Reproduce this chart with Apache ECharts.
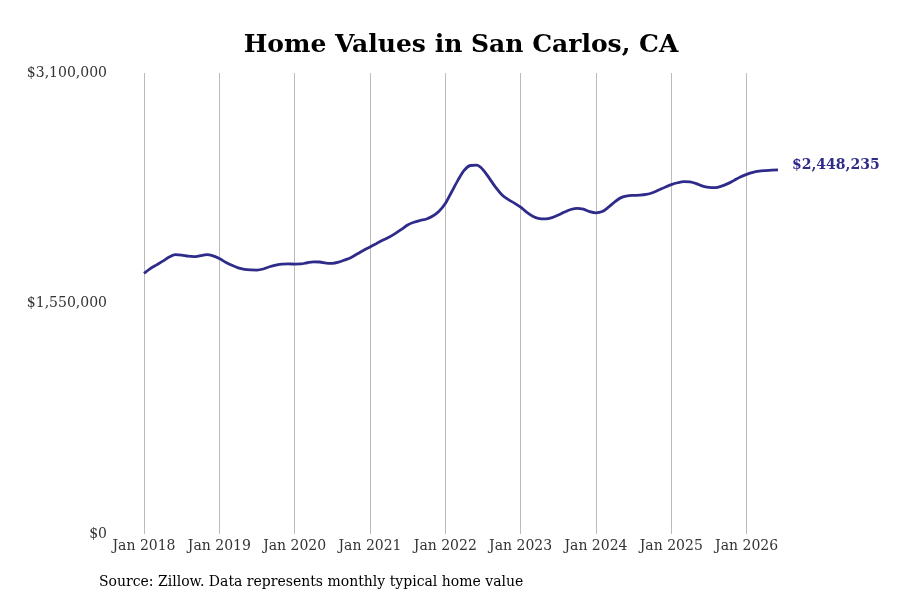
<!DOCTYPE html>
<html>
<head>
<meta charset="utf-8">
<script src="https://cdn.jsdelivr.net/npm/echarts@6/dist/echarts.min.js"></script>
<style>
  html, body { margin: 0; padding: 0; background: #fff; }
  #main { width: 900px; height: 600px; }
</style>
</head>
<body>
<div id="main"></div>
<script>
// monthly typical home value, Jan 2018 - Jun 2026
var years = ['2018', '2019', '2020', '2021', '2022', '2023', '2024', '2025', '2026'];
var monthNames = ['Jan', 'Feb', 'Mar', 'Apr', 'May', 'Jun', 'Jul', 'Aug', 'Sep', 'Oct', 'Nov', 'Dec'];
var values2018 = [1753000, 1785000, 1810000, 1835000, 1862000, 1878000, 1876000, 1868000, 1865000, 1872000, 1878000, 1870000];
var values2019 = [1852000, 1828000, 1807000, 1790000, 1780000, 1776000, 1775000, 1782000, 1797000, 1808000, 1815000, 1816000];
var values2020 = [1815000, 1816000, 1824000, 1830000, 1829000, 1822000, 1820000, 1828000, 1843000, 1860000, 1884000, 1908000];
var values2021 = [1930000, 1952000, 1975000, 1995000, 2020000, 2048000, 2078000, 2096000, 2108000, 2118000, 2138000, 2170000];
var values2022 = [2222000, 2300000, 2378000, 2445000, 2478000, 2480000, 2450000, 2393000, 2332000, 2282000, 2250000, 2225000];
var values2023 = [2198000, 2162000, 2135000, 2121000, 2119000, 2128000, 2145000, 2165000, 2182000, 2190000, 2184000, 2168000];
var values2024 = [2160000, 2168000, 2198000, 2234000, 2262000, 2274000, 2277000, 2279000, 2284000, 2295000, 2313000, 2332000];
var values2025 = [2349000, 2362000, 2370000, 2368000, 2356000, 2339000, 2331000, 2329000, 2339000, 2356000, 2378000, 2400000];
var values2026 = [2418000, 2432000, 2440000, 2444000, 2447000, 2448235];
var yTicks = [0, 1550000, 3100000];

var values = [].concat(values2018, values2019, values2020, values2021, values2022,
    values2023, values2024, values2025, values2026);
var months = [];
for (var i = 0; i < values.length; i++) {
    months.push(monthNames[i % 12] + ' ' + years[Math.floor(i / 12)]);
}

function money(v) {
    return '$' + Math.round(v).toString().replace(/\B(?=(\d{3})+(?!\d))/g, ',');
}

var lineColor = '#2e2b8a';
var serif = 'DejaVu Serif';

var myChart = echarts.init(document.getElementById('main'));
var option = {
    backgroundColor: '#fff',
    animation: false,
    title: [{
        text: 'Home Values in San Carlos, CA',
        left: 461,
        top: 33,
        padding: 0,
        textAlign: 'center',
        textStyle: { fontFamily: serif, fontWeight: 'bold', fontSize: 25, color: '#000' }
    }, {
        text: 'Source: Zillow. Data represents monthly typical home value',
        left: 99,
        top: 575,
        padding: 0,
        textStyle: { fontFamily: serif, fontWeight: 'normal', fontSize: 14, color: '#000' }
    }],
    grid: { left: 144, right: 122, top: 73, bottom: 66, containLabel: false },
    xAxis: {
        type: 'category',
        data: months,
        boundaryGap: false,
        axisLine: { show: false },
        axisTick: { show: false },
        axisLabel: {
            interval: function (idx) { return idx % 12 === 0; },
            fontFamily: serif, fontSize: 14, color: '#333', margin: 5
        },
        splitLine: {
            show: true,
            interval: function (idx) { return idx % 12 === 0; },
            lineStyle: { color: '#bbb', width: 1 }
        }
    },
    yAxis: {
        type: 'value',
        min: yTicks[0],
        max: yTicks[2],
        interval: yTicks[1],
        axisLine: { show: false },
        axisTick: { show: false },
        splitLine: { show: false },
        axisLabel: {
            margin: 37,
            fontFamily: serif, fontSize: 14, color: '#333',
            formatter: function (v) { return money(v); }
        }
    },
    series: [{
        type: 'line',
        data: values,
        smooth: 0.3,
        showSymbol: false,
        lineStyle: { color: lineColor, width: 2.8 },
        itemStyle: { color: lineColor },
        endLabel: {
            show: true,
            distance: 14,
            offset: [0, -5],
            fontFamily: serif, fontWeight: 'bold', fontSize: 14, color: lineColor,
            formatter: function (p) { return money(p.value); }
        }
    }]
};
myChart.setOption(option);
</script>
</body>
</html>
